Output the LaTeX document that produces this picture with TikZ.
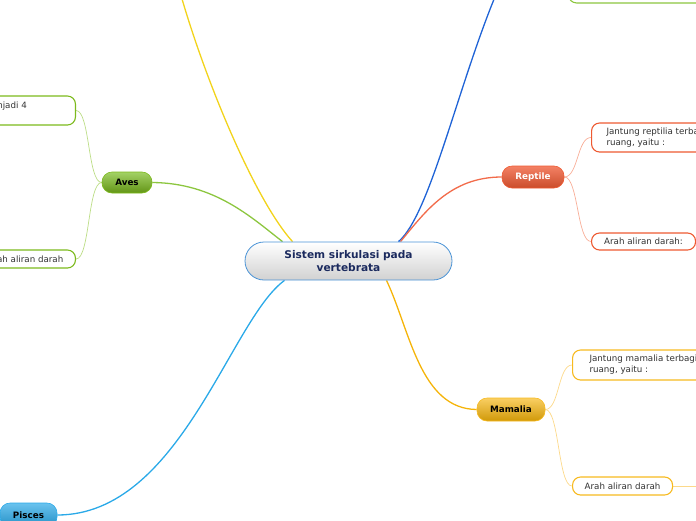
\documentclass[tikz,border=0pt]{standalone}
\usepackage{fontspec}
\setmainfont{DejaVu Sans}
\pgfdeclarelayer{bg}
\pgfsetlayers{bg,main}
\definecolor{txt}{HTML}{333333}
\definecolor{navy}{HTML}{1B2A5E}
\definecolor{cborder}{HTML}{4A93D6}
\definecolor{yel}{HTML}{F2D31B}
\definecolor{dblue}{HTML}{1F63D6}
\definecolor{grn}{HTML}{8CC63F}
\definecolor{grnb}{HTML}{7CBA1C}
\definecolor{grnl}{HTML}{BCDD86}
\definecolor{red}{HTML}{F26B4A}
\definecolor{redb}{HTML}{EE5A32}
\definecolor{redl}{HTML}{F8AE98}
\definecolor{org}{HTML}{F5B40A}
\definecolor{orgb}{HTML}{F7BA20}
\definecolor{orgl}{HTML}{FCD98A}
\definecolor{lblue}{HTML}{2AA9E8}
\tikzset{
  central/.style={draw=cborder, line width=0.8pt, rounded corners=19pt, top color=white, bottom color=black!18,
    minimum width=207pt, minimum height=38pt, inner sep=0pt, align=center, text=navy,
    font=\fontsize{10.6}{12.5}\selectfont\bfseries},
  topic/.style={rounded corners=10pt, inner sep=0pt, line width=0.6pt,
    font=\fontsize{8.8}{10}\selectfont\bfseries},
  leaf/.style={draw, fill=white, rounded corners=8pt, line width=1.1pt, text=txt, inner ysep=0pt,
    font=\fontsize{8.7}{11}\selectfont},
  mainline/.style={line width=1.3pt},
  subline/.style={line width=0.7pt},
}
\begin{document}
\begin{tikzpicture}[x=1pt,y=-1pt]
\useasboundingbox (0,0) rectangle (696,520);
\clip (0,0) rectangle (696,520);

% central node
\node[central] (c) at (348.5,261) {Sistem sirkulasi pada\\vertebrata};

% main topics
\node[topic, draw=grnb, top color=grn!80!white, bottom color=grnb!80!black, minimum width=50pt, minimum height=21pt, text=black] (aves) at (127,182.5) {Aves};
\node[topic, draw=redb, top color=red!85!white, bottom color=redb!85!black, minimum width=62pt, minimum height=22pt, text=white] (reptile) at (533,177) {Reptile};
\node[topic, draw=orgb, top color=orgb!70!white, bottom color=org!85!black, minimum width=68pt, minimum height=23pt, text=black] (mamalia) at (511,409.5) {Mamalia};
\node[topic, draw=lblue, top color=lblue!70!white, bottom color=lblue!85!black, minimum width=57pt, minimum height=24pt, text=black] (pisces) at (28.5,515) {Pisces};

% leaves
\node[leaf, draw=grnb, minimum width=200pt, minimum height=29pt, anchor=east] (a1) at (76,110.5) {};
\node[txt, font=\fontsize{8.7}{11}\selectfont, anchor=base east, inner sep=0pt] (a1t) at (27,108.5) {Jantung aves terbagi menjadi 4};
\node[leaf, draw=grnb, minimum width=100pt, minimum height=18pt, anchor=east] (a2) at (76,259) {Arah aliran darah};

\node[leaf, draw=redb, minimum height=29pt, anchor=west, inner xsep=15pt, align=left] (r1) at (591,137.5) {Jantung reptilia terbagi menjadi 3\\ruang, yaitu :};
\node[leaf, draw=redb, minimum width=104pt, minimum height=17pt, anchor=west] (r2) at (591,241.5) {Arah aliran darah:};

\node[leaf, draw=orgb, minimum height=30pt, anchor=west, inner xsep=17pt, align=left] (m1) at (572,365) {Jantung mamalia terbagi menjadi 4\\ruang, yaitu :};
\node[leaf, draw=orgb, minimum width=100pt, minimum height=18pt, anchor=west] (m2) at (572,486) {Arah aliran darah};

% partly visible box at the top right
\node[leaf, draw=grn, minimum width=200pt, minimum height=30pt, anchor=south west] (top) at (568,3.5) {};

% free ends
\coordinate (yend) at (180,-8);
\coordinate (bend) at (497,-8);
\coordinate (m2end) at (710,486);

\begin{pgfonlayer}{bg}
  \draw[mainline, yel] ([xshift=-56pt]c.north) .. controls (255,200) and (205,80) .. (yend);
  \draw[mainline, dblue] ([xshift=50pt]c.north) .. controls (430,215) and (458,85) .. (bend);
  \draw[mainline, grn] (aves.east) .. controls (215,183) and (252,218) .. ([xshift=-66pt]c.north);
  \draw[mainline, red] ([xshift=52pt]c.north) .. controls (425,212) and (450,177) .. (reptile.west);
  \draw[mainline, org] ([xshift=38pt]c.south) .. controls (410,330) and (420,409) .. (mamalia.west);
  \draw[mainline, lblue] ([xshift=-64pt]c.south) .. controls (230,320) and (180,515) .. (pisces.east);

  \draw[subline, grnl] (aves.west) .. controls +(-14,0) and +(14,0) .. (a1.east);
  \draw[subline, grnl] (aves.west) .. controls +(-14,0) and +(14,0) .. (a2.east);
  \draw[subline, redl] (reptile.east) .. controls +(14,0) and +(-14,0) .. (r1.west);
  \draw[subline, redl] (reptile.east) .. controls +(14,0) and +(-14,0) .. (r2.west);
  \draw[subline, orgl] (mamalia.east) .. controls +(14,0) and +(-14,0) .. (m1.west);
  \draw[subline, orgl] (mamalia.east) .. controls +(14,0) and +(-14,0) .. (m2.west);
  \draw[subline, orgl] (m2.east) -- (m2end);
\end{pgfonlayer}
\end{tikzpicture}
\end{document}
